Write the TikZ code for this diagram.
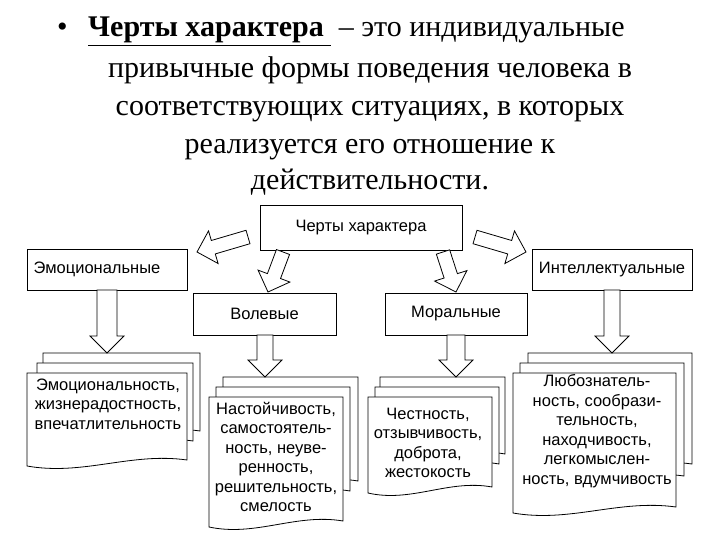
\documentclass[tikz,border=0pt]{standalone}
\usepackage{fontspec}
\setmainfont{Liberation Serif}
\newfontfamily\arial{Liberation Sans}
\usetikzlibrary{calc}
\tikzset{
  box/.style={draw, thick, fill=white, inner sep=0pt, font=\arial\fontsize{16.5}{19}\selectfont},
  doctext/.style={align=center, font=\arial\fontsize{16.5}{19.5}\selectfont, inner sep=0pt},
  title/.style={font=\fontsize{30}{34}\selectfont, anchor=base, inner sep=0pt},
  arr/.style={draw, thick, fill=white, line join=miter}
}
\newcommand\blockarrow[4]{% name, from, to, shaft half width
  \coordinate (#1a) at (#2);
  \coordinate (#1b) at (#3);
  \coordinate (#1h) at ($(#1b)!17pt!(#1a)$);
  \coordinate (#1p1) at ($(#1a)!#4pt!90:(#1b)$);
  \coordinate (#1p2) at ($(#1h)!#4pt!-90:(#1a)$);
  \coordinate (#1p3) at ($(#1h)!17pt!-90:(#1a)$);
  \coordinate (#1p4) at ($(#1h)!17pt!90:(#1a)$);
  \coordinate (#1p5) at ($(#1h)!#4pt!90:(#1a)$);
  \coordinate (#1p6) at ($(#1a)!#4pt!-90:(#1b)$);
  \path[arr] (#1p1) -- (#1p2) -- (#1p3) -- (#1b) -- (#1p4) -- (#1p5) -- (#1p6) -- cycle;
}
\newcommand\docshape[4]{% x1 y1 x2 y2(bottom)
  \path[draw, thick, fill=white] (#1,#2) -- (#3,#2) -- (#3,#4-6) .. controls ({#3-0.35*(#3-#1)},#4-14) and ({#1+0.35*(#3-#1)},#4+10) .. (#1,#4) -- cycle;
}
\begin{document}
\begin{tikzpicture}[x=1pt,y=-1pt]
\useasboundingbox (0,0) rectangle (720,540);
\fill[white] (0,0) rectangle (720,540);
% title
\node[title, anchor=base west] (bul) at (57,37) {•};
\node[title, anchor=base west] (t1) at (88,37) {\textbf{\underline{Черты характера }} – это индивидуальные};
\node[title] (t2) at (370,78) {привычные формы поведения человека в};
\node[title] (t3) at (370,116) {соответствующих ситуациях, в которых};
\node[title] (t4) at (370,154) {реализуется его отношение к};
\node[title] (t5) at (370,190) {действительности.};
% boxes
\node[box, minimum width=202, minimum height=45] (top) at (361,227.5) {Черты характера};
\node[box, minimum width=160, minimum height=41] (emo) at (107,269.5) {\hspace*{-20pt}Эмоциональные};
\node[box, minimum width=143, minimum height=42] (vol) at (264.5,314) {Волевые};
\node[box, minimum width=142, minimum height=42] (mor) at (456,314) {Моральные};
\node[box, minimum width=160, minimum height=41] (int) at (612,269.5) {Интеллектуальные};
% diagonal arrows
\blockarrow{da1}{248,237}{197,252}{7}
\blockarrow{da2}{283,252}{268,292}{7}
\blockarrow{da3}{443,252}{456,292}{7}
\blockarrow{da4}{475,237}{526,252}{7}
% documents
\docshape{43}{353}{200}{437}
\docshape{37}{363}{193}{447}
\docshape{27}{373}{187}{466}
\docshape{223}{377}{358}{487}
\docshape{216}{387}{350}{497}
\docshape{209}{397}{343}{527}
\docshape{380}{377}{505}{460}
\docshape{375}{387}{499}{470}
\docshape{368}{397}{492}{493}
\docshape{528}{353}{692}{470}
\docshape{520}{363}{684}{482}
\docshape{513}{373}{676}{513}
% vertical arrows
\blockarrow{va1}{107,290}{107,353}{10}
\blockarrow{va2}{265,335}{265,377}{8}
\blockarrow{va3}{456,335}{456,377}{9}
\blockarrow{va4}{612,290}{612,353}{8}
% doc texts
\node[doctext] (d1) at (108,404) {Эмоциональность,\\жизнерадостность,\\впечатлительность};
\node[doctext] (d2) at (276,457) {Настойчивость,\\самостоятель-\\ность, неуве-\\ренность,\\решительность,\\смелость};
\node[doctext] (d3) at (428,443) {Честность,\\отзывчивость,\\доброта,\\жестокость};
\node[doctext] (d4) at (597,431) {Любознатель-\\ность, сообрази-\\тельность,\\находчивость,\\легкомыслен-\\ность, вдумчивость};
\end{tikzpicture}
\end{document}
